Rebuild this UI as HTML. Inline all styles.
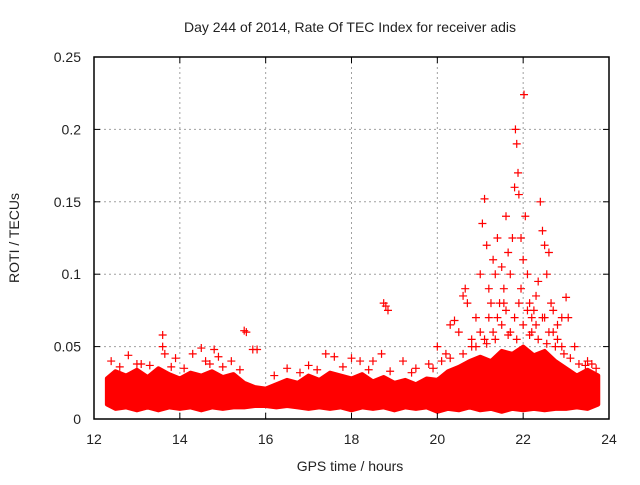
<!DOCTYPE html>
<html><head><meta charset="utf-8"><style>
body{margin:0;background:#fff;}
svg text{font-family:"Liberation Sans",sans-serif;font-size:14px;fill:#222;}
</style></head><body>
<svg id="chart" width="640" height="480" xmlns="http://www.w3.org/2000/svg">
<text x="350" y="32" text-anchor="middle">Day 244 of 2014, Rate Of TEC Index for receiver adis</text>
<text x="350" y="471" text-anchor="middle">GPS time / hours</text>
<text transform="translate(19,238) rotate(-90)" text-anchor="middle">ROTI / TECUs</text>
<g id="grid"></g>
<g id="band"></g>
<g id="pts"></g>
<g id="axes"></g>
</svg>
<script>
const xTicks=[12,14,16,18,20,22,24];
const yTicks=[0,0.05,0.1,0.15,0.2,0.25];
const yTickLabels=["0","0.05","0.1","0.15","0.2","0.25"];
const bandTimes=[12.3,12.5,12.75,13,13.25,13.5,13.75,14,14.25,14.5,14.75,15,15.25,15.5,15.75,16,16.25,16.5,16.75,17,17.25,17.5,17.75,18,18.25,18.5,18.75,19,19.25,19.5,19.75,20,20.25,20.5,20.75,21,21.25,21.5,21.75,22,22.25,22.5,22.75,23,23.25,23.5,23.75];
const bandHigh=[0.028,0.033,0.03,0.034,0.029,0.035,0.031,0.028,0.032,0.03,0.033,0.029,0.031,0.025,0.022,0.021,0.024,0.027,0.025,0.03,0.027,0.032,0.03,0.028,0.031,0.026,0.029,0.025,0.027,0.024,0.028,0.027,0.033,0.036,0.04,0.043,0.04,0.047,0.045,0.05,0.044,0.047,0.04,0.035,0.03,0.034,0.03];
const bandLow=[0.01,0.007,0.008,0.006,0.008,0.006,0.008,0.007,0.008,0.006,0.008,0.007,0.008,0.008,0.009,0.009,0.008,0.009,0.008,0.007,0.008,0.007,0.008,0.006,0.008,0.007,0.008,0.006,0.008,0.007,0.008,0.005,0.007,0.006,0.008,0.006,0.007,0.005,0.007,0.006,0.007,0.006,0.007,0.007,0.008,0.007,0.01];
const ptTimes=[12.4,12.8,13.1,13.6,13.6,13.65,13.9,14.3,14.5,14.6,14.8,14.9,15.2,15.5,15.55,15.7,15.8,16.5,17.0,17.4,17.6,18.0,18.2,18.5,18.7,18.75,18.8,18.85,19.2,19.5,19.8,
20.0,20.1,20.2,20.3,20.4,20.5,20.6,20.65,20.7,20.8,20.9,21.0,21.05,21.1,21.15,21.2,21.3,21.35,21.4,21.45,21.5,21.55,21.6,21.65,21.7,21.75,21.8,21.82,21.85,21.88,21.9,21.95,22.0,22.02,22.05,22.1,22.15,22.2,22.3,22.35,22.4,22.45,22.5,22.55,22.6,22.65,22.7,22.8,22.9,23.0,23.05,23.2,23.5,23.6,
21.0,21.2,21.3,21.5,21.6,21.7,21.8,21.9,22.0,22.1,22.2,22.3,22.5,22.6,22.7,22.8,22.9,21.1,21.4,20.9,21.25,21.55,21.95,22.25,22.45,
12.6,13.0,13.3,13.8,14.1,14.7,15.0,15.4,16.2,16.8,17.2,17.8,18.4,18.9,19.4,19.9,20.3,20.6,20.8,21.15,21.35,21.65,21.85,22.15,22.35,22.55,22.75,22.95,23.1,23.3,23.45,23.7];
const ptValues=[0.04,0.044,0.038,0.058,0.05,0.045,0.042,0.045,0.049,0.04,0.048,0.043,0.04,0.061,0.06,0.048,0.048,0.035,0.037,0.045,0.043,0.042,0.04,0.04,0.045,0.08,0.078,0.075,0.04,0.035,0.038,
0.05,0.04,0.045,0.065,0.068,0.06,0.085,0.09,0.08,0.055,0.07,0.1,0.135,0.152,0.12,0.09,0.11,0.1,0.125,0.08,0.105,0.09,0.14,0.115,0.1,0.125,0.16,0.2,0.19,0.17,0.155,0.125,0.11,0.224,0.14,0.1,0.08,0.07,0.085,0.095,0.15,0.13,0.12,0.1,0.115,0.08,0.075,0.065,0.07,0.084,0.07,0.05,0.04,0.038,
0.06,0.07,0.06,0.065,0.075,0.06,0.07,0.08,0.065,0.075,0.06,0.065,0.07,0.06,0.06,0.055,0.05,0.055,0.07,0.05,0.08,0.08,0.09,0.075,0.07,
0.036,0.038,0.037,0.036,0.035,0.038,0.036,0.034,0.03,0.032,0.034,0.036,0.034,0.033,0.032,0.035,0.042,0.045,0.05,0.052,0.055,0.058,0.055,0.058,0.055,0.052,0.05,0.045,0.042,0.038,0.037,0.035];
const L=94,R=609,T=57,B=419;
const xs=t=>L+(t-12)/12*(R-L);
const ys=v=>B-v/0.25*(B-T);
const NS="http://www.w3.org/2000/svg";
function mk(tag,attrs,parent){const e=document.createElementNS(NS,tag);for(const k in attrs)e.setAttribute(k,attrs[k]);parent.appendChild(e);return e;}
const grid=document.getElementById('grid'),axes=document.getElementById('axes'),band=document.getElementById('band'),pts=document.getElementById('pts');
xTicks.forEach((t,i)=>{
  if(i>0&&i<xTicks.length-1){const g=mk('line',{x1:xs(t),x2:xs(t),y1:T,y2:B,stroke:'#a0a0a0','stroke-dasharray':'2,3'},grid);
  
  }
  const tk=mk('line',{x1:xs(t),x2:xs(t),y1:B,y2:B-6,stroke:'#000'},axes);
  
  
  const tk2=mk('line',{x1:xs(t),x2:xs(t),y1:T,y2:T+6,stroke:'#000'},axes);
  
  
  const tx=mk('text',{x:xs(t),y:B+25,'text-anchor':'middle'},axes);tx.textContent=t;
  
  
});
yTicks.forEach((v,i)=>{
  if(i>0&&i<yTicks.length-1){const g=mk('line',{x1:L,x2:R,y1:ys(v),y2:ys(v),stroke:'#a0a0a0','stroke-dasharray':'2,3'},grid);
  
  }
  const tk=mk('line',{x1:L,x2:L+6,y1:ys(v),y2:ys(v),stroke:'#000'},axes);
  
  
  const tk2=mk('line',{x1:R,x2:R-6,y1:ys(v),y2:ys(v),stroke:'#000'},axes);
  
  
  const tx=mk('text',{x:L-13,y:ys(v)+5,'text-anchor':'end'},axes);tx.textContent=yTickLabels[i];
  
  
});
const fr=mk('rect',{x:L,y:T,width:R-L,height:B-T,fill:'none',stroke:'#000','stroke-width':1.5},axes);


let p=bandTimes.map((t,i)=>xs(t)+','+ys(bandHigh[i]));
for(let i=bandTimes.length-1;i>=0;i--)p.push(xs(bandTimes[i])+','+ys(bandLow[i]));
const poly=mk('polygon',{points:p.join(' '),fill:'#ff0000',stroke:'#ff0000','stroke-width':4,'stroke-linejoin':'round'},band);


ptTimes.forEach((t,i)=>{
  const x=xs(t),y=ys(ptValues[i]);
  const m=mk('path',{d:`M${x-4},${y}H${x+4}M${x},${y-4}V${y+4}`,stroke:'#ff0000','stroke-width':1.2,fill:'none'},pts);
  
  
});
</script>
</body></html>
